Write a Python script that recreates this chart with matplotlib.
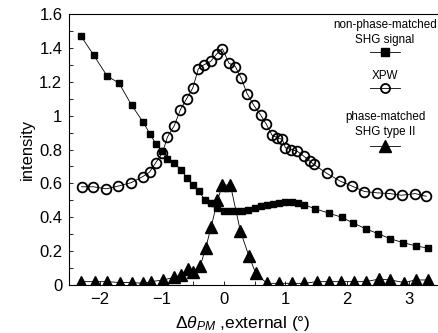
import numpy as np
import matplotlib
matplotlib.use('Agg')
import matplotlib.pyplot as plt
from matplotlib.lines import Line2D
from matplotlib.ticker import MultipleLocator

plt.rcParams['font.family'] = ['Liberation Sans', 'DejaVu Sans']
plt.rcParams['mathtext.fontset'] = 'custom'
plt.rcParams['mathtext.rm'] = 'Liberation Sans'
plt.rcParams['mathtext.it'] = 'Liberation Sans:italic'

# non-phase-matched SHG signal
shg_x = [-2.31, -2.10, -1.89, -1.69, -1.49, -1.30, -1.19, -1.10, -0.99, -0.91,
         -0.80, -0.69, -0.59, -0.49, -0.40, -0.30, -0.20, -0.10, 0.0, 0.1,
         0.2, 0.3, 0.4, 0.5, 0.6, 0.7, 0.8, 0.9, 1.0, 1.1,
         1.2, 1.3, 1.48, 1.70, 1.91, 2.10, 2.30, 2.50, 2.70, 2.90, 3.11, 3.31]
shg_y = [1.47, 1.355, 1.236, 1.19, 1.062, 0.96, 0.89, 0.835, 0.79, 0.742,
         0.72, 0.68, 0.633, 0.59, 0.555, 0.50, 0.485, 0.455, 0.44, 0.435,
         0.435, 0.435, 0.445, 0.455, 0.465, 0.475, 0.48, 0.485, 0.49, 0.49,
         0.485, 0.475, 0.45, 0.425, 0.40, 0.366, 0.332, 0.303, 0.273, 0.251, 0.231, 0.218]

# XPW
xpw_x = [-2.30, -2.11, -1.90, -1.71, -1.50, -1.31, -1.20, -1.10, -0.99, -0.91,
         -0.80, -0.70, -0.60, -0.50, -0.41, -0.32, -0.21, -0.11, -0.02, 0.085,
         0.19, 0.285, 0.38, 0.49, 0.60, 0.69, 0.785, 0.87, 0.95, 1.0,
         1.09, 1.19, 1.30, 1.40, 1.46, 1.67, 1.89, 2.08, 2.28, 2.49,
         2.69, 2.88, 3.10, 3.28]
xpw_y = [0.58, 0.58, 0.568, 0.584, 0.604, 0.64, 0.667, 0.722, 0.78, 0.874,
         0.94, 1.035, 1.10, 1.163, 1.276, 1.30, 1.32, 1.365, 1.395, 1.31,
         1.29, 1.22, 1.13, 1.06, 1.003, 0.95, 0.884, 0.87, 0.86, 0.81,
         0.80, 0.79, 0.76, 0.73, 0.712, 0.659, 0.613, 0.584, 0.552, 0.544,
         0.54, 0.53, 0.54, 0.524]

# phase-matched SHG type II
pm_x = [-2.31, -2.08, -1.89, -1.68, -1.49, -1.30, -1.18, -0.98, -0.80, -0.69,
        -0.585, -0.49, -0.38, -0.29, -0.20, -0.10, -0.02, 0.11, 0.27, 0.41,
        0.52, 0.70, 0.90, 1.10, 1.30, 1.51, 1.70, 1.90, 2.11, 2.30,
        2.51, 2.70, 2.92, 3.11, 3.31]
pm_y = [0.02, 0.02, 0.02, 0.015, 0.015, 0.01, 0.02, 0.03, 0.045, 0.06,
        0.095, 0.075, 0.11, 0.22, 0.345, 0.50, 0.59, 0.59, 0.32, 0.17,
        0.07, 0.01, 0.01, 0.01, 0.01, 0.02, 0.02, 0.02, 0.02, 0.02,
        0.035, 0.03, 0.015, 0.03, 0.03]

yticks = [0, 0.2, 0.4, 0.6, 0.8, 1.0, 1.2, 1.4, 1.6]
yticklabels = ['0', '0.2', '0.4', '0.6', '0.8', '1', '1.2', '1.4', '1.6']
xticks = [-2, -1, 0, 1, 2, 3]

fig = plt.figure(figsize=(4.38, 3.33), dpi=100)
ax = fig.add_axes([0.158, 0.144, 0.842, 0.814])

lw = 0.6
ax.plot(shg_x, shg_y, '-', color='black', lw=lw, marker='s', ms=5, mfc='black', mec='black')
ax.plot(xpw_x, xpw_y, '-', color='black', lw=lw, marker='o', ms=7, mfc='none', mec='black', mew=1.3)
ax.plot(pm_x, pm_y, '-', color='black', lw=lw, marker='^', ms=8.5, mfc='black', mec='black')

ax.set_xlim(-2.5, 3.47)
ax.set_ylim(0, 1.6)
ax.set_yticks(yticks)
ax.set_yticklabels(yticklabels)
ax.set_xticks(xticks)
ax.yaxis.set_minor_locator(MultipleLocator(0.1))
ax.xaxis.set_minor_locator(MultipleLocator(0.5))
ax.tick_params(which='both', direction='in', length=3, width=0.6, labelsize=12, pad=5)
ax.tick_params(axis='x', which='both', top=False)
ax.tick_params(axis='y', which='both', right=False)
ax.spines['right'].set_visible(False)
for s in ['left', 'top', 'bottom']:
    ax.spines[s].set_linewidth(0.8)

ax.set_ylabel('intensity', fontsize=12, labelpad=3)
ax.set_xlabel(r'$\Delta\theta_{PM}$ ,external (°)', fontsize=12.5)
ax.xaxis.set_label_coords(0.47, -0.105)

# legend drawn like the original: text lines above each marker
cx = 0.879
entries = [
    (['non-phase-matched', 'SHG signal'], [0.925, 0.879], 0.843, dict(marker='s', ms=5.5, mfc='black')),
    (['XPW'], [0.772], 0.736, dict(marker='o', ms=6.5, mfc='none', mew=1.3)),
    (['phase-matched', 'SHG type II'], [0.649, 0.603], 0.562, dict(marker='^', ms=9, mfc='black')),
]
for lines, tys, my, mk in entries:
    for line, ty in zip(lines, tys):
        fig.text(cx, ty, line, ha='center', va='center', fontsize=8.4)
    fig.add_artist(Line2D([cx - 0.035, cx + 0.035], [my, my], color='black', lw=lw,
                          transform=fig.transFigure))
    fig.add_artist(Line2D([cx], [my], color='black', mec='black', transform=fig.transFigure, **mk))

fig.savefig('out.png', dpi=100)
